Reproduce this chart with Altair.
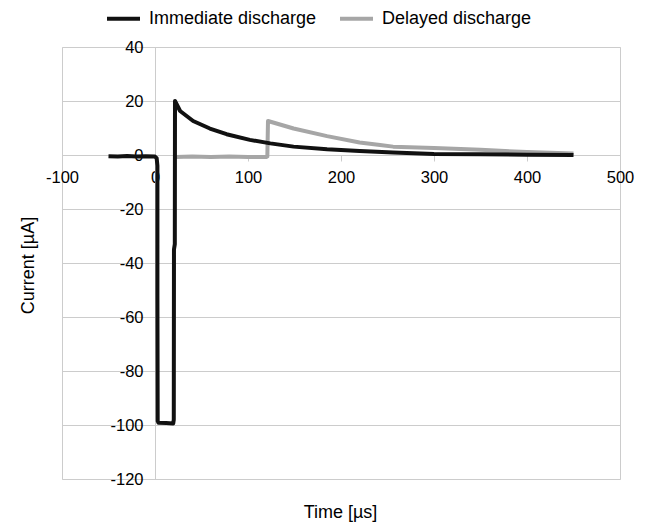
import altair as alt
import pandas as pd

series_names = ["Immediate discharge", "Delayed discharge"]
series_colors = ["#111111", "#a6a6a6"]

imm_t = [-50, -40, -30, -20, -10, 0, 1.8, 2.6, 2.6, 2.9, 3.8, 12, 19.6, 20.2, 20.4,
         21.3, 21.5, 27, 41, 59, 77, 102, 124, 149, 185, 220, 256, 300, 350, 400, 450]
imm_v = [-0.5, -0.6, -0.4, -0.6, -0.5, -0.6, -1.2, -4, -52, -98.5, -99.2, -99.3, -99.4, -98, -35,
         -33, 20, 16.3, 12.6, 9.8, 7.7, 5.6, 4.3, 3.1, 2.1, 1.5, 0.9, 0.4, 0.3, 0.1, 0.0]

del_t = [22, 40, 60, 80, 100, 120, 120.8, 121.5, 149, 185, 220, 242, 256, 300, 350, 400, 450]
del_v = [-0.7, -0.6, -0.7, -0.6, -0.7, -0.7, -0.5, 12.6, 9.8, 7.0, 4.6, 3.7, 3.1, 2.6, 1.9, 1.1, 0.6]

x_ticks = [-100, 0, 100, 200, 300, 400, 500]
y_ticks = [-120, -100, -80, -60, -40, -20, 0, 20, 40]

imm = pd.DataFrame({"t": imm_t, "v": imm_v, "series": series_names[0], "idx": range(len(imm_t))})
dele = pd.DataFrame({"t": del_t, "v": del_v, "series": series_names[1], "idx": range(len(del_t))})

FONT = "Liberation Sans"
GRID = "#cccccc"
LABEL_EXPR = "datum.value < 0 ? '-' + abs(datum.value) : '' + datum.value"

x_enc = alt.X("t:Q", scale=alt.Scale(domain=[-100, 500], nice=False),
              axis=alt.Axis(values=x_ticks, orient="bottom", offset=-324, grid=False,
                            domainColor=GRID, tickColor=GRID, tickSize=6,
                            labelFontSize=16.5, labelColor="#000000", labelPadding=8,
                            labelFlush=False, labelOverlap=False, labelExpr=LABEL_EXPR,
                            title="Time [µs]", titleFontSize=18, titleFontWeight="normal",
                            titleColor="#000000", titleX=278, titleY=357,
                            titleAlign="center", titleBaseline="middle"))
y_enc = alt.Y("v:Q", scale=alt.Scale(domain=[-120, 40], nice=False),
              axis=alt.Axis(values=y_ticks, orient="left", offset=-93, grid=True,
                            gridColor=GRID, domainColor=GRID, ticks=False,
                            labelFontSize=16.5, labelColor="#000000", labelPadding=12,
                            labelFlush=False, labelOverlap=False, labelExpr=LABEL_EXPR,
                            title="Current [µA]", titleFontSize=18, titleFontWeight="normal",
                            titleColor="#000000", titleX=-127, titleY=218, titleAngle=270,
                            titleAlign="center", titleBaseline="middle"))
color_enc = alt.Color("series:N",
                      scale=alt.Scale(domain=series_names, range=series_colors),
                      legend=alt.Legend(orient="none", legendX=43, legendY=-47,
                                        direction="horizontal", title=None,
                                        symbolType="stroke", symbolSize=1089,
                                        symbolStrokeWidth=4, labelFontSize=18,
                                        labelColor="#000000", labelOffset=7,
                                        labelLimit=0, columnPadding=15, labelFont=FONT))

gray = alt.Chart(dele).mark_line(strokeWidth=4, strokeJoin="round").encode(
    x=x_enc, y=y_enc, color=color_enc, order="idx:Q")
black = alt.Chart(imm).mark_line(strokeWidth=4, strokeJoin="round").encode(
    x=x_enc, y=y_enc, color=color_enc, order="idx:Q")

chart = alt.layer(gray, black).properties(
    width=558, height=432,
    autosize=alt.AutoSizeParams(type="none"),
    padding={"left": 62, "top": 47, "right": 26, "bottom": 43},
).configure(font=FONT).configure_view(stroke=GRID)

chart.save("out.html", embed_options={"renderer": "svg", "actions": False})
